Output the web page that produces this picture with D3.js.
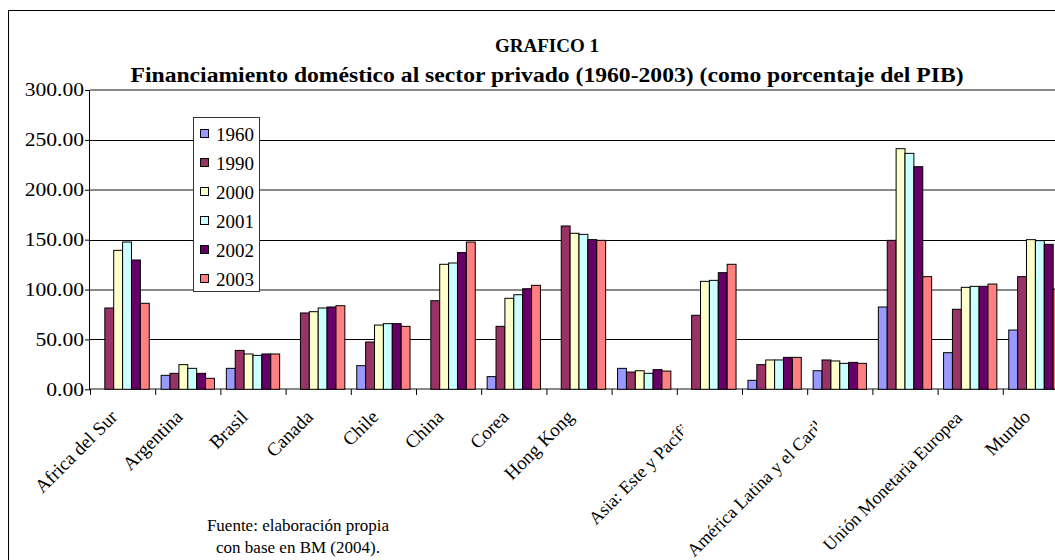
<!DOCTYPE html>
<html><head><meta charset="utf-8">
<script src="https://cdn.jsdelivr.net/npm/d3@7"></script>
<style>body{margin:0;background:#fff}svg{display:block}
svg text{font-family:"Liberation Serif","Times New Roman",serif;fill:#000}</style>
</head><body><svg id="c" width="1055" height="560"></svg>
<script>
const categories = ["Africa del Sur","Argentina","Brasil","Canada","Chile","China","Corea","Hong Kong","","Asia: Este y Pacífico","","América Latina y el Caribe","","Unión Monetaria Europea","Mundo"];
const years = ["1960","1990","2000","2001","2002","2003"];
const v1960 = [null,14,21,null,23.7,null,12.7,null,21,null,9,18.6,82.5,36.7,59.4];
const v1990 = [81.5,16,39,76.5,47.4,88.8,63.1,163.7,17.3,74.2,24.7,29.4,149.3,80.2,112.9];
const v2000 = [139.3,24.7,35.4,77.8,64.4,125.3,91.2,156.4,18.6,108.2,29.4,28.4,241.2,102.2,150];
const v2001 = [147.6,21,34,81.5,65.8,126.6,94.8,155.3,16,109.2,29.4,26,236.5,103.2,149];
const v2002 = [129.6,16,35.4,82.5,65.8,137,100.8,150,19.7,116.9,32,27,223.1,103.2,145.3];
const v2003 = [86.2,11,35.4,83.8,63.1,147.6,104.2,149.3,18.3,125.3,32,26,112.9,105.5,100.5];
const yTicks = [0,50,100,150,200,250,300];
const colors = ["#9999FF","#993366","#FFFFCC","#CCFFFF","#660066","#FF8080"];
const title = "GRAFICO 1";
const subtitle = "Financiamiento doméstico al sector privado (1960-2003) (como porcentaje del PIB)";
const source = ["Fuente: elaboración propia","con base en BM (2004)."];

const series = [v1960,v1990,v2000,v2001,v2002,v2003];
const svg = d3.select("#c");

// chart border
svg.append("line").attr("x1",8.5).attr("x2",8.5).attr("y1",10).attr("y2",560).attr("stroke","#000");
svg.append("line").attr("x1",8).attr("x2",1055).attr("y1",10.5).attr("y2",10.5).attr("stroke","#000");

const L = 90, T = 90, B = 389.3, step = 65.2;
const R = L + step*categories.length;
const x0 = d3.scaleBand().domain(d3.range(categories.length)).range([L,R]);
const gpad = 5.95;
const x1 = d3.scaleBand().domain(years).range([gpad, x0.bandwidth()-gpad]);
const y = d3.scaleLinear().domain([0,300]).range([B,T]);
const xb = d3.scaleLinear().domain([0,categories.length]).range([L,R]);

// gridlines
svg.append("g").selectAll("line").data(yTicks).join("line")
  .attr("x1",L).attr("x2",R)
  .attr("y1",d=>Math.round(y(d))+((d/50)%2===0?0:0.5))
  .attr("y2",d=>Math.round(y(d))+((d/50)%2===0?0:0.5))
  .attr("stroke",d=>(d/50)%2===0?"#8a8a8a":"#000")
  .attr("stroke-width",d=>(d/50)%2===0?2:1);

// bars
const bars = svg.append("g");
series.forEach((s,k)=>{
  bars.append("g").selectAll("rect").data(s.map((v,i)=>({v,i})).filter(d=>d.v!=null)).join("rect")
    .attr("x",d=>x0(d.i)+x1(years[k]))
    .attr("y",d=>y(d.v))
    .attr("width",x1.bandwidth())
    .attr("height",d=>y(0)-y(d.v))
    .attr("fill",colors[k])
    .attr("stroke","#000").attr("stroke-width",1);
});

// y axis
const ya = svg.append("g").attr("transform",`translate(${L},0)`)
  .call(d3.axisLeft(y).tickValues(yTicks).tickSize(5).tickPadding(1).tickFormat(d3.format(".2f")));
ya.select(".domain").attr("stroke","#000").attr("d",`M-0.5,${y(300)}V${y(0)}`);
ya.selectAll(".tick line").attr("stroke","#000");
const sx = 1.2;
ya.selectAll(".tick text").attr("font-size",18).attr("x",-6/sx).attr("transform",`scale(${sx},1)`);

// x axis ticks
const xa = svg.append("g").attr("transform",`translate(0,${Math.round(B)})`)
  .call(d3.axisBottom(xb).tickValues(d3.range(categories.length+1)).tickSize(6).tickFormat(""));
xa.select(".domain").remove();
xa.selectAll(".tick line").attr("stroke","#000");

// x labels (some drawn smaller and clipped, as in the source picture)
const clipLimits = {9:683, 11:817};
const smallLabels = new Set([9,11,13]);
const defs = svg.append("defs");
Object.entries(clipLimits).forEach(([i,xl])=>{
  defs.append("clipPath").attr("id","lc"+i).append("rect").attr("x",0).attr("y",0).attr("width",xl).attr("height",560);
});
const lg = svg.append("g");
categories.forEach((c,i)=>{
  if(!c) return;
  const cx = x0(i)+x0.bandwidth()/2;
  const small = smallLabels.has(i);
  const wrap = lg.append("g");
  if(clipLimits[i]) wrap.attr("clip-path",`url(#lc${i})`);
  wrap.append("text")
    .attr("transform",small?`translate(${cx-7},419) rotate(-45)`:`translate(${cx-4},418) rotate(-45)`)
    .attr("text-anchor","end")
    .attr("font-size",small?18:19)
    .text(c);
});

// title
svg.append("text").attr("x",547).attr("y",52).attr("text-anchor","middle")
  .attr("font-weight","bold").attr("font-size",19).text(title);
svg.append("text").attr("x",547).attr("y",82).attr("text-anchor","middle")
  .attr("font-weight","bold").attr("font-size",20)
  .attr("textLength",833).attr("lengthAdjust","spacingAndGlyphs").text(subtitle);

// legend
const leg = svg.append("g");
leg.append("rect").attr("x",193.5).attr("y",117.5).attr("width",66).attr("height",174)
  .attr("fill","#fff").attr("stroke","#333");
years.forEach((yr,k)=>{
  const cy = 134 + 29*k;
  leg.append("rect").attr("x",200.5).attr("y",cy-4.5).attr("width",8).attr("height",8)
    .attr("fill",colors[k]).attr("stroke","#000");
  leg.append("text").attr("x",216).attr("y",cy+6.5).attr("font-size",19).text(yr);
});

// source
source.forEach((s,i)=>{
  svg.append("text").attr("x",298).attr("y",531+22*i).attr("text-anchor","middle")
    .attr("font-size",17).text(s);
});
</script></body></html>
